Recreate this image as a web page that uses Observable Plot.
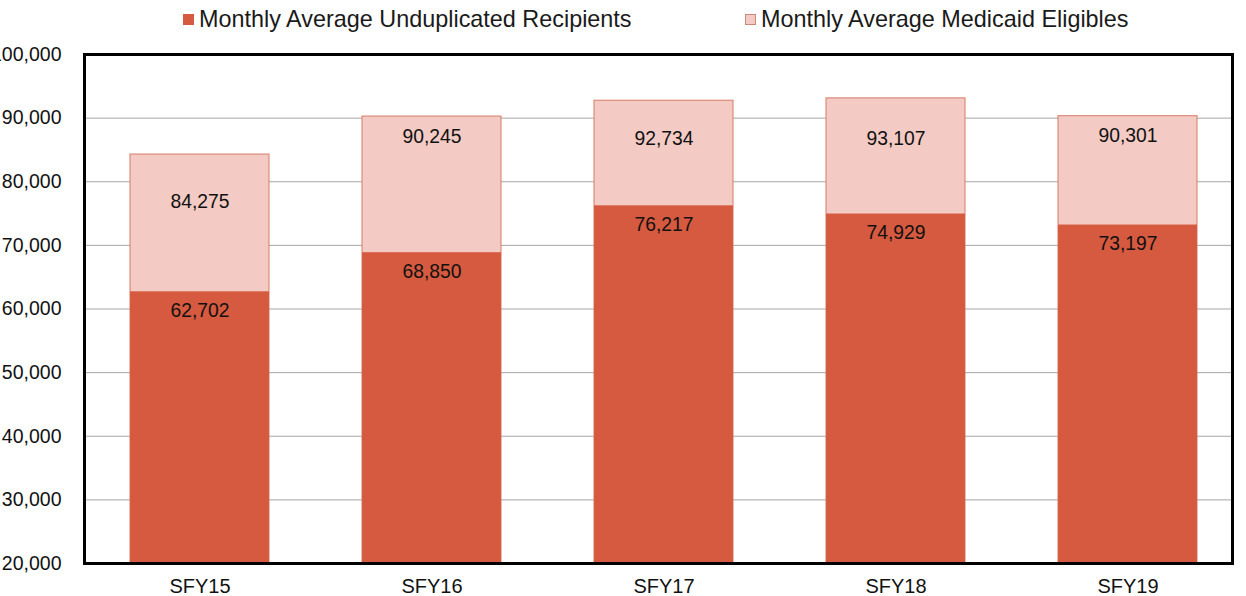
<!DOCTYPE html>
<html>
<head>
<meta charset="utf-8">
<script src="https://cdn.jsdelivr.net/npm/d3@7"></script>
<script src="https://cdn.jsdelivr.net/npm/@observablehq/plot@0.6"></script>
<style>
  html, body { margin: 0; padding: 0; background: white; overflow: hidden; }
  body { width: 1246px; height: 596px; font-family: "Liberation Sans", Arial, sans-serif; }
  #legend { position: relative; height: 36px; width: 1246px; font-size: 23.4px; color: #1a1a1a; }
  .item { position: absolute; top: 6px; white-space: nowrap; line-height: 26px; }
  .sw { display: inline-block; width: 11px; height: 11px; margin-right: 5px; vertical-align: 2px; box-sizing: border-box; }
  #chart svg { overflow: visible; }
</style>
</head>
<body>
<div id="legend">
  <div class="item" style="left:183px"><span class="sw" style="background:#d65a3f"></span>Monthly Average Unduplicated Recipients</div>
  <div class="item" style="left:745px"><span class="sw" style="background:#f3cbc4;border:1px solid #c98878"></span>Monthly Average Medicaid Eligibles</div>
</div>
<div id="chart"></div>
<script>
const categories = ["SFY15", "SFY16", "SFY17", "SFY18", "SFY19"];
const recipients = [62702, 68850, 76217, 74929, 73197];
const eligibles = [84275, 90245, 92734, 93107, 90301];
const yTicks = [20000, 30000, 40000, 50000, 60000, 70000, 80000, 90000, 100000];

const data = categories.map((c, i) => ({cat: c, rec: recipients[i], elig: eligibles[i]}));
const fmt = d3.format(",");
const base = 20000;

// label placement (pixels below the bar top), as set by hand in the original
const eligLabelDy = {SFY15: 47, SFY16: 20, SFY17: 38, SFY18: 40, SFY19: 20};

const chart = Plot.plot({
  width: 1246,
  height: 560,
  marginTop: 18,
  marginBottom: 33,
  marginLeft: 84,
  marginRight: 14,
  style: {fontFamily: "'Liberation Sans', Arial, sans-serif", background: "white", overflow: "visible"},
  x: {domain: categories, range: [83.6, 1243.6], paddingInner: 0.4, paddingOuter: 0.2, label: null},
  y: {domain: [20000, 100000], label: null},
  marks: [
    Plot.gridY(yTicks, {stroke: "#a6a6a6", strokeOpacity: 1, strokeWidth: 1}),
    Plot.barY(data, {x: "cat", y1: () => base, y2: "elig", fill: "#f3cbc4", stroke: "#d67a66", strokeWidth: 1}),
    Plot.barY(data, {x: "cat", y1: () => base, y2: "rec", fill: "#d65a3f"}),
    ...categories.map(c => Plot.text(data.filter(d => d.cat === c), {x: "cat", y: "elig", text: d => fmt(d.elig), dy: eligLabelDy[c], fontSize: 19.3, fill: "#111"})),
    Plot.text(data, {x: "cat", y: "rec", text: d => fmt(d.rec), dy: 19, fontSize: 19.3, fill: "#111"}),
    Plot.axisY(yTicks, {tickSize: 0, tickPadding: 23, tickFormat: fmt, fontSize: 19.5, fill: "#111"}),
    Plot.axisX({tickSize: 0, tickPadding: 15, fontSize: 20, fill: "#111"}),
    Plot.frame({stroke: "black", strokeWidth: 3})
  ]
});
document.getElementById("chart").appendChild(chart);
</script>
</body>
</html>
